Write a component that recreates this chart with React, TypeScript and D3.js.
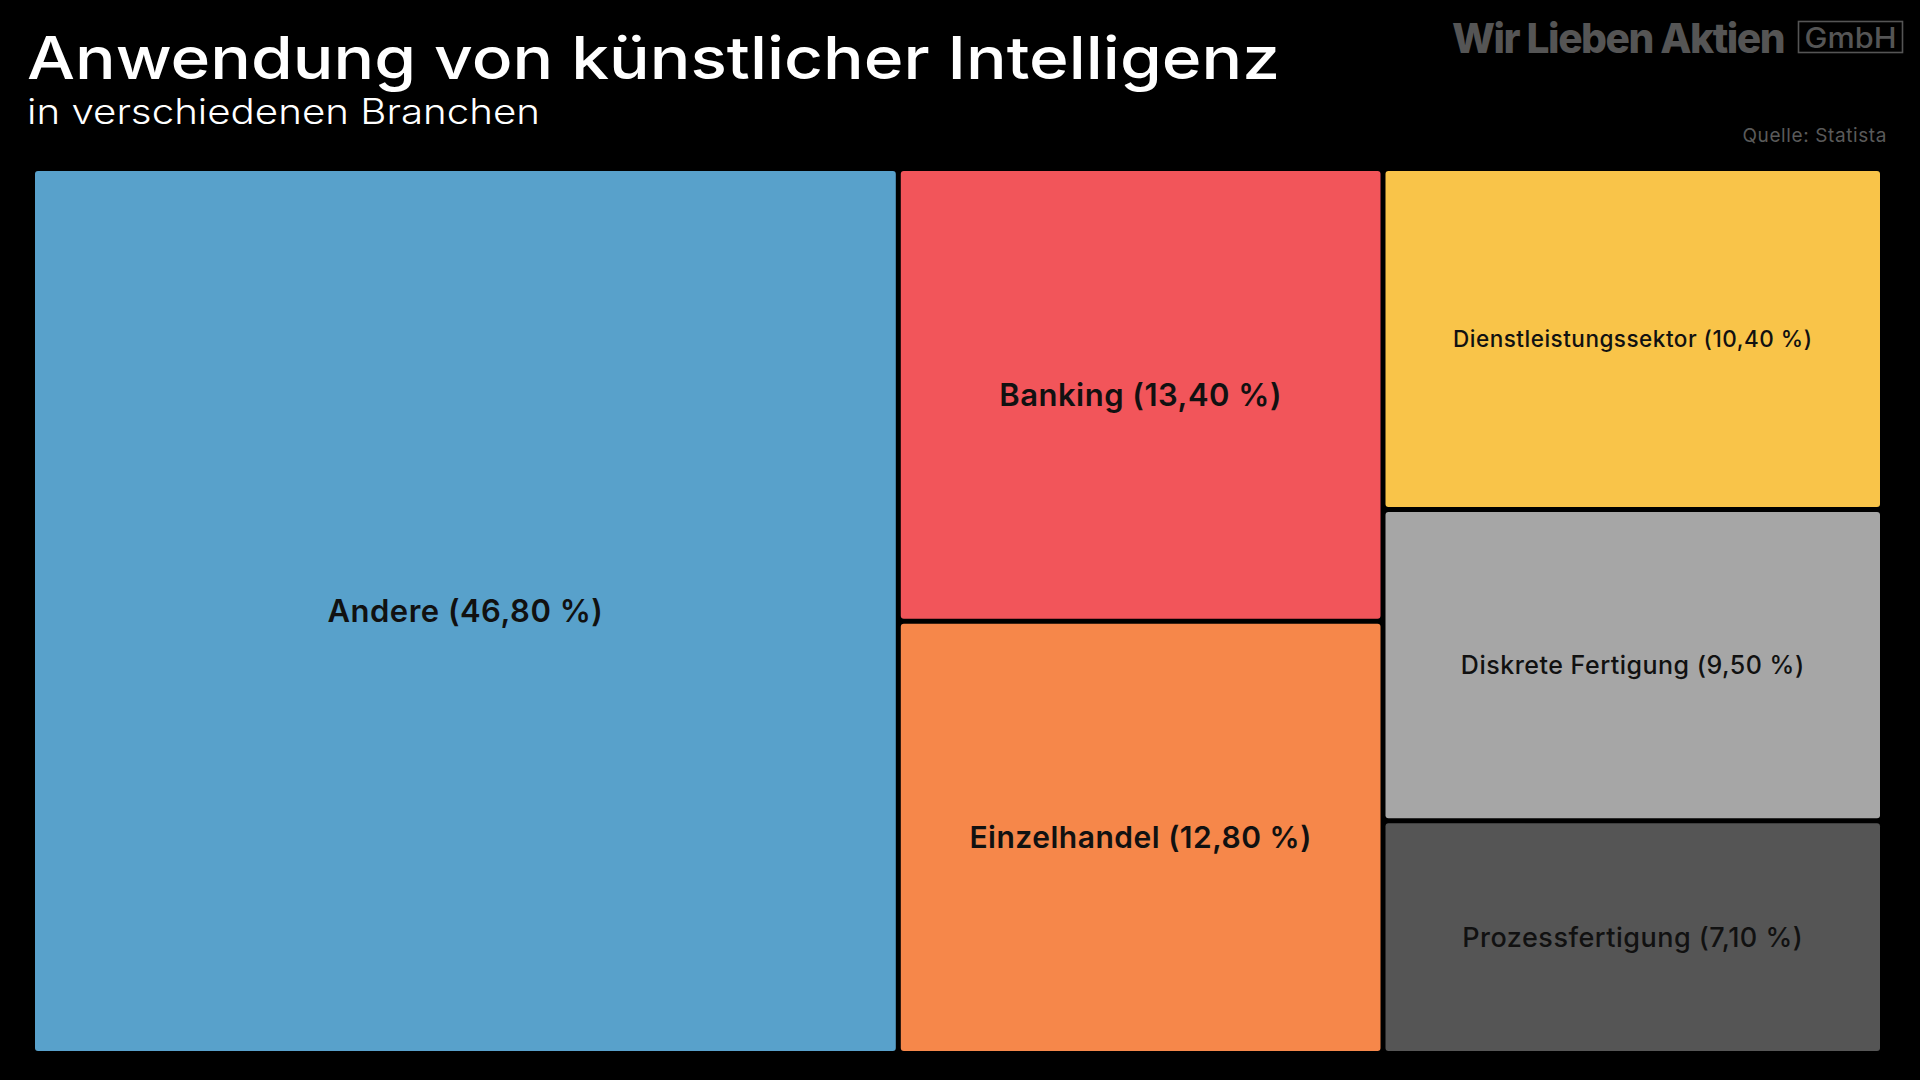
import React from "react";
import * as d3 from "d3";

const categories = ["Andere", "Banking", "Einzelhandel", "Dienstleistungssektor", "Diskrete Fertigung", "Prozessfertigung"];
const shares = [46.8, 13.4, 12.8, 10.4, 9.5, 7.1];
const colors = ["#58A1CB", "#F2555A", "#F6874A", "#F9C449", "#A6A6A6", "#555555"];
const labelSizes = [31, 31, 30, 22.5, 25, 27];

const W = 1920;
const H = 1080;
const X0 = 35;
const Y0 = 171;
const TW = 1845;
const TH = 880;
const FONT = "Inter, 'Noto Sans', 'Open Sans', sans-serif";

type Leaf = { name: string; value: number; color: string; size: number };

export default function App() {
  const data: Leaf[] = categories.map((c, i) => ({ name: c, value: shares[i], color: colors[i], size: labelSizes[i] }));
  const root = d3
    .hierarchy<any>({ children: data })
    .sum((d: any) => d.value || 0)
    .sort((a, b) => (b.value || 0) - (a.value || 0));
  d3.treemap<any>()
    .size([TW, TH])
    .paddingInner(5)
    .tile(d3.treemapSquarify.ratio(1))(root);
  const leaves = root.leaves() as any[];
  const fmt = (v: number) => v.toFixed(2).replace(".", ",") + " %";

  return (
    <svg
      width={W}
      height={H}
      style={{ position: "absolute", left: 0, top: 0, display: "block", background: "#000" }}
    >
      <rect x={0} y={0} width={W} height={H} fill="#000" />
      <text x={27} y={79} fill="#fff" fontFamily={FONT} fontSize={59} fontWeight={500} textLength={1253} lengthAdjust="spacingAndGlyphs">
        Anwendung von künstlicher Intelligenz
      </text>
      <text x={27} y={124} fill="#fff" fontFamily={FONT} fontSize={35} fontWeight={300} textLength={513} lengthAdjust="spacingAndGlyphs">
        in verschiedenen Branchen
      </text>
      <text x={1452} y={53} fill="#555" fontFamily={FONT} fontSize={41} fontWeight={800} letterSpacing={-1.5} textLength={332} lengthAdjust="spacingAndGlyphs">
        Wir Lieben Aktien
      </text>
      <rect x={1798.5} y={21.5} width={104} height={31} fill="none" stroke="#555" strokeWidth={1.6} />
      <text x={1850.5} y={48} fill="#555" fontFamily={FONT} fontSize={28} fontWeight={500} textAnchor="middle" textLength={92} lengthAdjust="spacingAndGlyphs">
        GmbH
      </text>
      <text x={1887} y={142} fill="#5a5a5a" fontFamily={FONT} fontSize={19} fontWeight={400} letterSpacing={0.6} textAnchor="end">
        Quelle: Statista
      </text>
      <g transform={`translate(${X0},${Y0})`}>
        {leaves.map((l, i) => {
          const w = l.x1 - l.x0;
          const h = l.y1 - l.y0;
          const big = l.data.value > 12;
          return (
            <g key={i}>
              <rect x={l.x0} y={l.y0} width={w} height={h} rx={3} ry={3} fill={l.data.color} />
              <text
                x={(l.x0 + l.x1) / 2}
                y={(l.y0 + l.y1) / 2}
                dy="0.35em"
                textAnchor="middle"
                fill="#111"
                fontFamily={FONT}
                fontSize={l.data.size}
                fontWeight={big ? 600 : 500}
                letterSpacing={0.5}
              >
                {`${l.data.name} (${fmt(l.data.value)})`}
              </text>
            </g>
          );
        })}
      </g>
    </svg>
  );
}
